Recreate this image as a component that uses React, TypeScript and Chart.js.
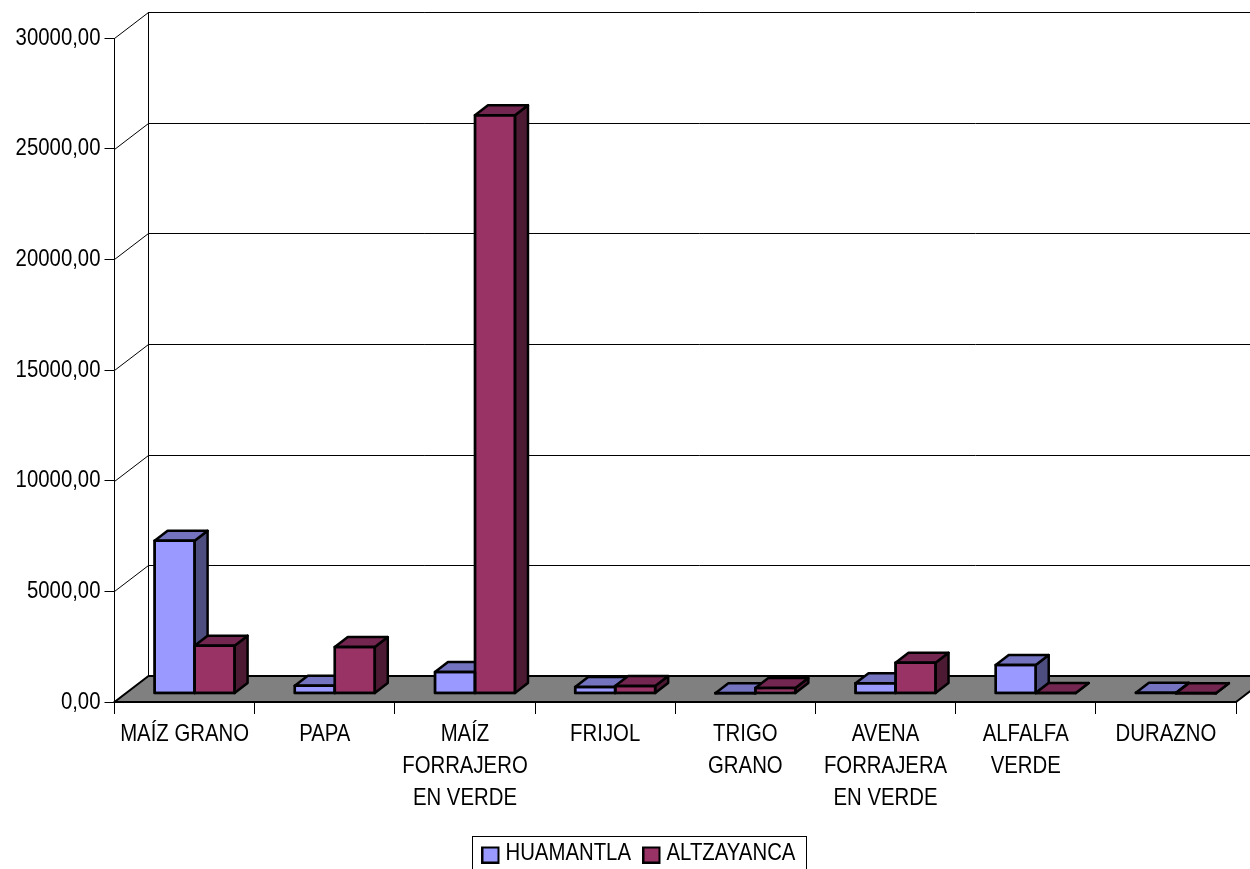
import React, { useEffect, useRef } from "react";
import { Chart, registerables } from "chart.js";

Chart.register(...registerables);

const categories: string[][] = [
  ["MAÍZ GRANO"],
  ["PAPA"],
  ["MAÍZ", "FORRAJERO", "EN VERDE"],
  ["FRIJOL"],
  ["TRIGO", "GRANO"],
  ["AVENA", "FORRAJERA", "EN VERDE"],
  ["ALFALFA", "VERDE"],
  ["DURAZNO"],
];
const huamantla = [6900, 350, 970, 290, 10, 460, 1290, 30];
const altzayanca = [2160, 2100, 26130, 340, 250, 1390, 20, 10];

const FONT = "'Liberation Sans', Arial, sans-serif";
const FONT_SIZE = 24;
const TEXT_SQUEEZE = 0.848;
const WALL_DX = 34;
const WALL_DY = 26;
const BAR_SHIFT_X = 10;
const BAR_SHIFT_Y = 8.5;
const BAR_DX = 13;
const BAR_DY = 10;
const STROKE = 2.5;
const LEGEND_LEFT = 75;
const LEGEND_TEXT_Y = 853;
const FRAME_X = 472.5;
const FRAME_Y = 836.5;
const FRAME_W = 334;

const faces = [
  { top: "#7373BF", side: "#4D4D80" },
  { top: "#732650", side: "#4D1A33" },
];

function poly(ctx: CanvasRenderingContext2D, pts: number[][], fill: string) {
  ctx.beginPath();
  pts.forEach((p, i) => (i ? ctx.lineTo(p[0], p[1]) : ctx.moveTo(p[0], p[1])));
  ctx.closePath();
  ctx.fillStyle = fill;
  ctx.fill();
  ctx.stroke();
}

function swatch(color: string) {
  const c = document.createElement("canvas");
  c.width = 23;
  c.height = 21;
  const g = c.getContext("2d")!;
  g.fillStyle = color;
  g.strokeStyle = "#000";
  g.lineWidth = 2;
  g.fillRect(1, 5, 16, 15);
  g.strokeRect(1, 5, 16, 15);
  return c;
}

const scene3d = {
  id: "scene3d",
  beforeInit(chart: any) {
    // the reference's type is a tall face squeezed horizontally
    const ctx = chart.ctx;
    const fill = ctx.fillText.bind(ctx);
    ctx.fillText = (t: string, x: number, y: number) =>
      fill(t, x, y, ctx.measureText(t).width * TEXT_SQUEEZE);
  },
  afterLayout(chart: any) {
    chart.legend.left = LEGEND_LEFT;
    chart.legend.top = LEGEND_TEXT_Y - FONT_SIZE / 2;
  },
  beforeDatasetsDraw(chart: any) {
    const { ctx, scales, chartArea } = chart;
    const y = scales.y;
    const x0 = chartArea.left;
    const x1 = chartArea.right;
    const y0 = y.getPixelForValue(0);
    ctx.save();
    ctx.strokeStyle = "#000";
    ctx.lineWidth = 1;
    // gridlines on the back and side walls
    y.ticks.forEach((t: any) => {
      if (t.value === 0) return;
      const py = Math.round(y.getPixelForValue(t.value)) + 0.5;
      ctx.beginPath();
      ctx.moveTo(x0, py);
      ctx.lineTo(x0 + WALL_DX, py - WALL_DY);
      ctx.lineTo(chart.width + 5, py - WALL_DY);
      ctx.stroke();
    });
    // back wall edge
    ctx.beginPath();
    ctx.moveTo(x0 + WALL_DX, y.getPixelForValue(30000) - WALL_DY);
    ctx.lineTo(x0 + WALL_DX, y0 - WALL_DY);
    ctx.stroke();
    // floor
    ctx.lineWidth = 2;
    ctx.strokeStyle = "#000";
    poly(
      ctx,
      [
        [x0, y0],
        [x1, y0],
        [x1 + WALL_DX, y0 - WALL_DY],
        [x0 + WALL_DX, y0 - WALL_DY],
      ],
      "#808080"
    );
    ctx.restore();

    // Everything in the datasets sits in mid-depth of the floor
    ctx.save();
    ctx.translate(BAR_SHIFT_X, -BAR_SHIFT_Y);
    ctx.lineWidth = STROKE;
    ctx.strokeStyle = "#000";
    ctx.lineJoin = "round";
    const n = chart.data.labels.length;
    for (let i = 0; i < n; i++) {
      [0, 1].forEach((d) => {
        const el = chart.getDatasetMeta(d).data[i];
        const l = el.x - el.width / 2;
        const r = el.x + el.width / 2;
        const t = el.y;
        const b = el.base;
        poly(
          ctx,
          [
            [r, t],
            [r + BAR_DX, t - BAR_DY],
            [r + BAR_DX, b - BAR_DY],
            [r, b],
          ],
          faces[d].side
        );
        poly(
          ctx,
          [
            [l, t],
            [r, t],
            [r + BAR_DX, t - BAR_DY],
            [l + BAR_DX, t - BAR_DY],
          ],
          faces[d].top
        );
      });
    }
  },
  afterDatasetsDraw(chart: any) {
    const ctx = chart.ctx;
    // keep the outline of the nearly flat bars visible
    const n = chart.data.labels.length;
    for (let i = 0; i < n; i++) {
      [0, 1].forEach((d) => {
        const el = chart.getDatasetMeta(d).data[i];
        ctx.strokeRect(el.x - el.width / 2, el.y, el.width, el.base - el.y);
      });
    }
    ctx.restore();
  },
  afterDraw(chart: any) {
    const { ctx } = chart;
    ctx.save();
    ctx.strokeStyle = "#000";
    ctx.lineWidth = 1;
    ctx.strokeRect(FRAME_X, FRAME_Y, FRAME_W, 60);
    ctx.restore();
  },
};

export default function App() {
  const ref = useRef<HTMLCanvasElement>(null);
  useEffect(() => {
    document.body.style.margin = "0";
    const barStyle = {
      borderColor: "#000",
      borderWidth: STROKE,
      borderSkipped: false,
      inflateAmount: STROKE / 2,
      clip: false,
    };
    const chart = new Chart(ref.current!, {
      type: "bar",
      data: {
        labels: categories,
        datasets: [
          { label: "HUAMANTLA", data: huamantla, backgroundColor: "#9999FF", ...barStyle },
          { label: "ALTZAYANCA", data: altzayanca, backgroundColor: "#993366", ...barStyle },
        ] as any,
      },
      options: {
        animation: false,
        responsive: false,
        devicePixelRatio: 1,
        layout: { padding: { left: 0, right: 14, top: 38, bottom: 0 } },
        categoryPercentage: 80 / 140.19,
        barPercentage: 1,
        plugins: {
          tooltip: { enabled: false },
          legend: {
            position: "bottom",
            maxHeight: 33,
            labels: {
              font: { family: FONT, size: FONT_SIZE },
              color: "#000",
              usePointStyle: true,
              pointStyleWidth: 1,
              boxHeight: 15,
              padding: 0,
              generateLabels: (c: any) =>
                c.data.datasets.map((ds: any, i: number) => ({
                  text: ds.label,
                  fillStyle: ds.backgroundColor,
                  strokeStyle: "#000",
                  lineWidth: 2,
                  pointStyle: swatch(ds.backgroundColor),
                  datasetIndex: i,
                })),
            },
          },
        },
        scales: {
          x: {
            afterFit: (s: any) => {
              s.height = 134;
            },
            grid: {
              display: true,
              drawOnChartArea: false,
              drawTicks: true,
              tickLength: 12,
              color: "#000",
              offset: true,
            },
            border: { display: true, color: "#000", width: 1 },
            ticks: {
              autoSkip: false,
              maxRotation: 0,
              minRotation: 0,
              padding: 4,
              color: "#000",
              font: { family: FONT, size: FONT_SIZE, lineHeight: 32 / FONT_SIZE },
            },
          },
          y: {
            min: 0,
            max: 30000,
            afterFit: (s: any) => {
              s.width = 114.5;
            },
            grid: {
              display: true,
              drawOnChartArea: false,
              drawTicks: true,
              tickLength: 10,
              color: "#000",
            },
            border: { display: true, color: "#000", width: 1 },
            ticks: {
              stepSize: 5000,
              padding: 4,
              color: "#000",
              font: { family: FONT, size: FONT_SIZE },
              callback: (v: any) => Number(v).toFixed(2).replace(".", ","),
            },
          },
        },
      } as any,
      plugins: [scene3d],
    });
    return () => chart.destroy();
  }, []);
  return (
    <div style={{ position: "absolute", left: 0, top: 0, width: 1250, height: 869, overflow: "hidden", background: "#fff" }}>
      <canvas ref={ref} width={1250} height={869} style={{ display: "block" }} />
    </div>
  );
}
